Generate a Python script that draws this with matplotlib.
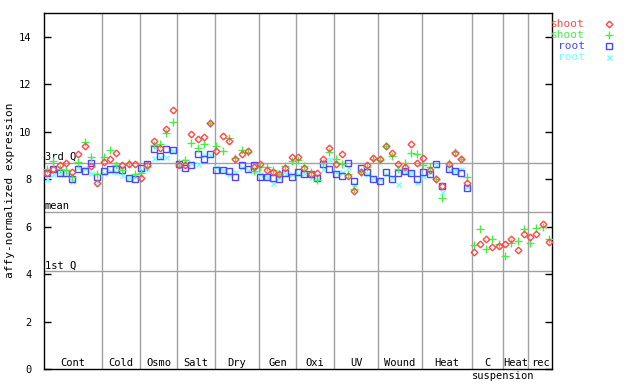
import numpy as np
import matplotlib
matplotlib.use("Agg")
import matplotlib.pyplot as plt
from matplotlib.lines import Line2D

plt.rcParams['font.family'] = 'DejaVu Sans Mono'

# experiment groups along the x axis (number of samples in each)
groups = ['Cont', 'Cold', 'Osmo', 'Salt', 'Dry', 'Gen', 'Oxi', 'UV', 'Wound', 'Heat', 'C', 'Heat', 'rec']
group_sizes = [9, 6, 6, 6, 7, 6, 6, 7, 7, 8, 5, 4, 4]

# shoot replicate 1 (red)
shoot1 = [8.24, 8.44, 8.58, 8.69, 8.30, 9.04, 9.40, 8.55, 7.82,
          8.72, 8.83, 9.11, 8.58, 8.62, 8.62,
          8.06, 8.60, 9.60, 9.30, 10.10, 10.90,
          8.60, 8.60, 9.89, 9.67, 9.79, 10.38,
          9.18, 9.80, 9.60, 8.83, 9.08, 9.20, 8.50,
          8.62, 8.40, 8.30, 8.20, 8.48, 8.94,
          8.95, 8.48, 8.20, 8.25, 8.86, 9.32,
          8.62, 9.08, 8.15, 7.52, 8.30, 8.60, 8.90,
          8.86, 9.39, 9.11, 8.62, 8.50, 9.46, 8.69,
          8.87, 8.40, 8.00, 7.70, 8.65, 9.10, 8.86, 7.82,
          4.94, 5.27, 5.46, 5.15, 5.20,
          5.27, 5.46, 5.00, 5.70,
          5.57, 5.67, 6.13, 5.36]

# shoot replicate 2 (green)
shoot2 = [8.44, 8.76, 8.44, 8.40, 8.10, 8.72, 9.55, 8.92, 8.20,
          8.94, 9.21, 8.60, 8.38, 8.69, 8.20,
          8.27, 8.50, 9.45, 9.50, 9.93, 10.42,
          8.70, 8.80, 9.54, 9.32, 9.46, 10.38,
          9.39, 9.20, 9.75, 8.90, 9.22, 9.15, 8.34,
          8.50, 8.50, 8.40, 8.20, 8.55, 8.77,
          8.80, 8.55, 8.30, 7.95, 8.70, 9.14,
          8.86, 8.62, 8.20, 7.60, 8.30, 8.50, 8.86,
          8.80, 9.39, 8.97, 8.44, 8.66, 9.11, 9.04,
          8.60, 8.50, 7.99, 7.21, 8.70, 9.15, 8.86, 8.10,
          5.24, 5.88, 5.06, 5.46, 5.27,
          4.78, 5.32, 5.38, 5.90,
          5.32, 5.95, 5.99, 5.49]

# root replicate 1 (blue), no suspension samples
root1 = [8.24, 8.44, 8.24, 8.27, 8.02, 8.44, 8.34, 8.69, 8.10,
         8.34, 8.44, 8.41, 8.38, 8.06, 8.02,
         8.48, 8.62, 9.28, 8.97, 9.28, 9.21,
         8.62, 8.48, 8.60, 9.04, 8.86, 9.08,
         8.40, 8.40, 8.35, 8.10, 8.58, 8.41, 8.58,
         8.10, 8.10, 8.03, 8.00, 8.27, 8.10,
         8.30, 8.20, 8.20, 8.06, 8.65, 8.41,
         8.22, 8.15, 8.69, 7.92, 8.48, 8.30, 8.02,
         7.92, 8.30, 8.00, 8.27, 8.34, 8.27, 7.99,
         8.31, 8.22, 8.65, 7.71, 8.41, 8.34, 8.24, 7.64]

# root replicate 2 (cyan)
root2 = [8.02, 8.20, 8.20, 8.22, 7.93, 8.50, 8.45, 8.24, 7.90,
         8.25, 8.34, 8.30, 8.16, 8.10, 8.15,
         8.40, 8.45, 8.90, 8.95, 8.93, 9.20,
         8.60, 8.76, 8.70, 8.62, 9.00, 9.00,
         8.50, 8.40, 8.20, 8.30, 8.50, 8.40, 8.40,
         8.20, 8.10, 7.85, 8.10, 8.20, 8.20,
         8.20, 8.25, 8.10, 8.00, 8.44, 8.86,
         8.30, 8.30, 8.50, 7.80, 8.35, 8.20, 8.10,
         8.00, 8.20, 8.10, 7.78, 8.30, 8.30, 7.88,
         8.14, 8.30, 8.60, 7.45, 8.40, 8.40, 8.44, 7.70]

# summary lines
quantiles = {'3rd Q': 8.70, 'mean': 6.62, '1st Q': 4.12}

fig = plt.figure(figsize=(6.4, 3.84), dpi=100)
ax = fig.add_axes([44 / 640, 15 / 384, 508 / 640, 356 / 384])

n = sum(group_sizes)
x = np.arange(n)
ax.set_xlim(-0.5, n - 0.5)
ax.set_ylim(0, 15)

grey = '#a0a0a0'
bounds = np.cumsum(group_sizes)
for b in bounds[:-1]:
    ax.axvline(b - 0.25, color=grey, lw=1, zorder=1)
for lab, v in quantiles.items():
    ax.axhline(v, color=grey, lw=1, zorder=1)
    ax.text(-0.35, v + 0.04, lab, fontsize=7.5, va='bottom', ha='left')

starts = np.concatenate([[-0.5], bounds[:-1] - 0.25])
ends = np.concatenate([bounds[:-1] - 0.25, [n - 0.5]])
for lab, s, e in zip(groups, starts, ends):
    ax.text((s + e) / 2, 0.12, lab, fontsize=7.5, ha='center', va='baseline')
# label under the three suspension groups
ax.annotate('suspension', xy=(bounds[-3] - 0.25, 0), xycoords='data',
            xytext=(0, -2), textcoords='offset pixels',
            fontsize=7.5, ha='center', va='top')

series = [
    ('shoot', shoot1, '#ff4848', dict(marker='D', ms=3.4, mfc='none', mew=1.0)),
    ('shoot', shoot2, '#48ee48', dict(marker='+', ms=5.5, mew=1.0)),
    ('root', root1, '#4848ff', dict(marker='s', ms=4.2, mfc='none', mew=1.0)),
    ('root', root2, '#70ffff', dict(marker='x', ms=3.6, mew=1.0)),
]
for name, vals, col, st in series[::-1]:
    ax.plot(x[:len(vals)], vals, ls='none', color=col, zorder=3, **st)

# legend drawn beside the axes
for k, (name, vals, col, st) in enumerate(series):
    yf = 1 - (24 + 10.9 * k) / 384
    fig.text(585 / 640, yf, name, color=col, fontsize=8, ha='right', va='center')
    fig.add_artist(Line2D([609 / 640], [yf], transform=fig.transFigure,
                          ls='none', color=col, **st))

ax.set_yticks(np.arange(0, 15, 2))
ax.set_xticks([])
ax.tick_params(axis='y', direction='in', length=5, width=1, left=True, right=True,
               labelsize=7.5, pad=9)
for sp in ax.spines.values():
    sp.set_linewidth(1)
fig.text(10 / 640, 1 - 190 / 384, 'affy-normalized expression', fontsize=8,
         rotation=90, ha='center', va='center')

fig.savefig('out.png', dpi=100)
